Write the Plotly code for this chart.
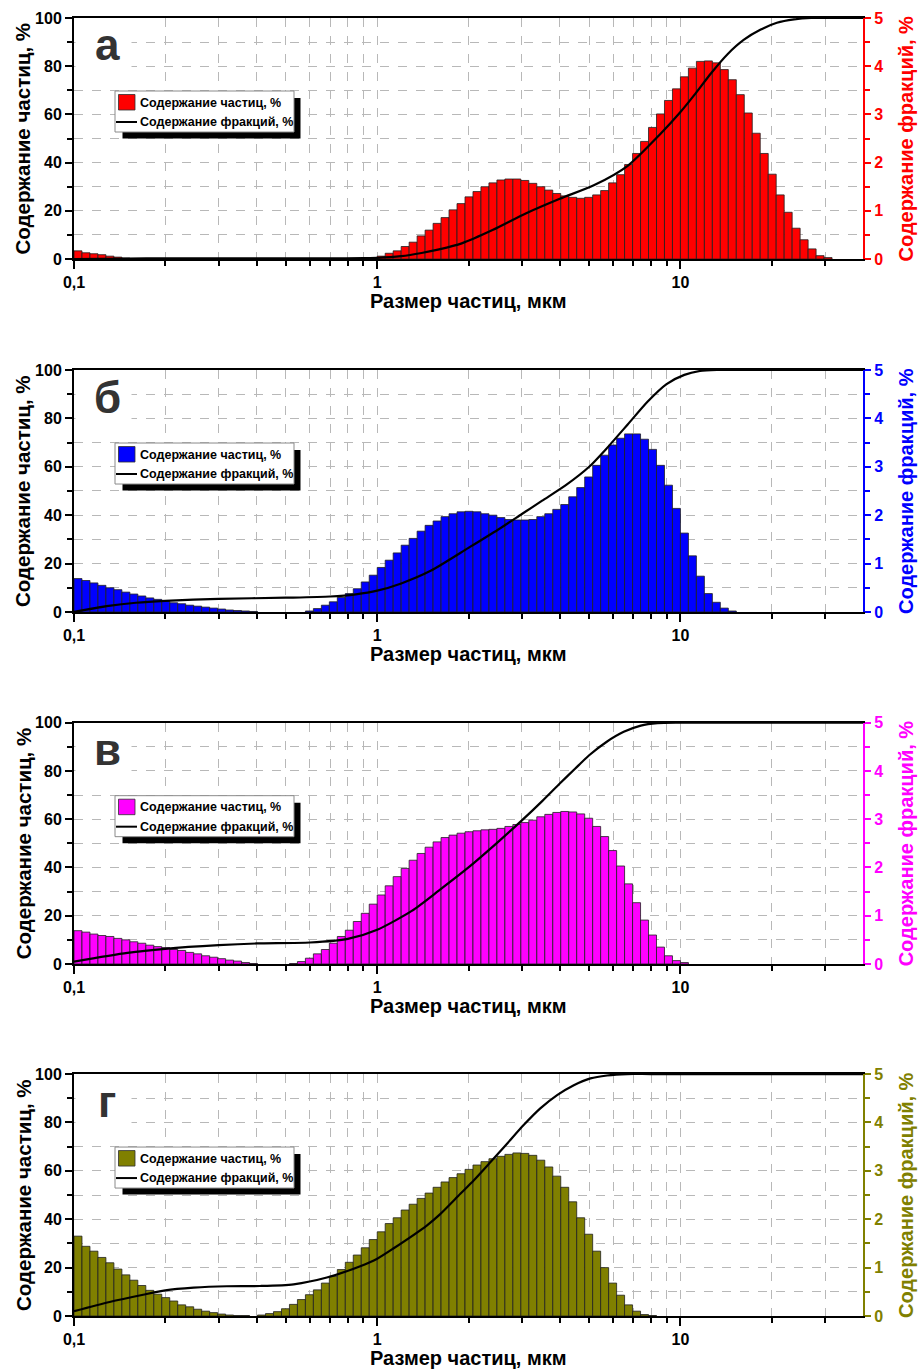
import numpy as np
import plotly.graph_objects as go

# ---------------- data ----------------
# size channels of the analyser (log-spaced bins starting at 0.1 µm)
X_MIN = 0.1
BINS_PER_DECADE = 38
N_BINS = 100

X_TICKS = [0.1, 1, 10]
X_TICK_TEXT = ["0,1", "1", "10"]
X_MINOR = [0.2, 0.3, 0.4, 0.5, 0.6, 0.7, 0.8, 0.9, 2, 3, 4, 5, 6, 7, 8, 9, 20, 30]
LEFT_TICKS = [0, 20, 40, 60, 80, 100]
LEFT_MINOR = [10, 30, 50, 70, 90]
RIGHT_TICKS = [0, 1, 2, 3, 4, 5]
RIGHT_MINOR = [0.5, 1.5, 2.5, 3.5, 4.5]

LETTERS = ["а", "б", "в", "г"]
COLORS = ["#ff0000", "#0000ff", "#ff00ff", "#808000"]

# panel а — bar heights (% per channel), segments start at channel index
A_LEFT_START = 0
A_LEFT = [0.17, 0.13, 0.11, 0.09, 0.06, 0.04, 0.02]
A_MAIN_START = 38
A_MAIN = [0.06, 0.12, 0.17, 0.26, 0.35, 0.48, 0.60, 0.74, 0.86, 1.02, 1.15, 1.29, 1.40, 1.50,
          1.58, 1.64, 1.66, 1.66, 1.63, 1.57, 1.50, 1.43, 1.36, 1.31, 1.28, 1.26, 1.28, 1.33,
          1.42, 1.58, 1.75, 1.96, 2.19, 2.44, 2.73, 3.01, 3.29, 3.53, 3.78, 3.96, 4.10, 4.11,
          4.07, 3.93, 3.72, 3.41, 3.03, 2.61, 2.19, 1.76, 1.33, 0.97, 0.64, 0.40, 0.21, 0.07, 0.03]
A_LINE_X = [0.1, 0.15, 0.2, 0.3, 0.5, 0.7, 0.9, 1.0, 1.2, 1.4, 1.6, 1.9, 2.4, 3.1, 4.0, 5.2, 6.7,
            8.6, 10.0, 11.1, 12.6, 14.3, 16.2, 18.4, 20.8, 23.7, 27, 32, 40]
A_LINE_Y = [0, 0.2, 0.3, 0.3, 0.3, 0.3, 0.4, 0.5, 1.2, 2.5, 4.0, 6.5, 12, 19, 25, 30.7, 38.7,
            52, 61, 68, 77, 85, 91, 95.2, 98, 99.4, 100, 100, 100]

# panel б
B_LEFT_START = 0
B_LEFT = [0.69, 0.65, 0.60, 0.55, 0.50, 0.46, 0.41, 0.37, 0.33, 0.29, 0.26, 0.22, 0.19, 0.17,
          0.14, 0.12, 0.10, 0.08, 0.06, 0.04, 0.03, 0.02, 0.01]
B_MAIN_START = 29
B_MAIN = [0.02, 0.07, 0.14, 0.21, 0.30, 0.38, 0.48, 0.62, 0.76, 0.92, 1.07, 1.22, 1.38, 1.52,
          1.67, 1.79, 1.88, 1.97, 2.03, 2.07, 2.08, 2.07, 2.03, 2.00, 1.95, 1.91, 1.90, 1.90,
          1.91, 1.97, 2.03, 2.12, 2.22, 2.38, 2.57, 2.79, 3.03, 3.24, 3.45, 3.59, 3.68, 3.68,
          3.57, 3.36, 3.03, 2.62, 2.14, 1.63, 1.16, 0.74, 0.38, 0.20, 0.08, 0.02]
B_LINE_X = [0.1, 0.13, 0.16, 0.2, 0.3, 0.5, 0.7, 0.85, 1.0, 1.2, 1.5, 2.0, 2.5, 3.0, 3.5, 4.2,
            5.0, 5.7, 6.7, 7.8, 9.0, 10.3, 11.6, 13.2, 16, 40]
B_LINE_Y = [0, 2.5, 3.8, 4.6, 5.4, 5.9, 6.4, 7.3, 8.8, 11.8, 17, 26.5, 34, 40.5, 46, 52.5,
            60, 67.5, 77.5, 87, 94.2, 98, 99.6, 100, 100, 100]

# panel в
C_LEFT_START = 0
C_LEFT = [0.69, 0.66, 0.62, 0.59, 0.57, 0.53, 0.50, 0.46, 0.43, 0.39, 0.36, 0.34, 0.30, 0.28,
          0.24, 0.21, 0.17, 0.14, 0.11, 0.08, 0.06, 0.03, 0.01]
C_MAIN_START = 27
C_MAIN = [0.01, 0.05, 0.12, 0.21, 0.30, 0.43, 0.57, 0.70, 0.88, 1.05, 1.24, 1.43, 1.62, 1.81,
          1.98, 2.15, 2.29, 2.42, 2.53, 2.62, 2.67, 2.71, 2.74, 2.76, 2.78, 2.79, 2.81, 2.85,
          2.89, 2.93, 2.98, 3.05, 3.10, 3.14, 3.16, 3.15, 3.11, 3.02, 2.85, 2.64, 2.35, 2.03,
          1.66, 1.27, 0.91, 0.60, 0.35, 0.17, 0.07, 0.03]
C_LINE_X = [0.1, 0.15, 0.2, 0.3, 0.4, 0.6, 0.8, 1.0, 1.3, 1.6, 2.0, 2.5, 3.0, 3.5, 4.0, 4.5,
            5.0, 5.7, 6.5, 7.4, 8.4, 10, 40]
C_LINE_Y = [1, 4.6, 6.3, 7.8, 8.5, 8.9, 10.4, 14.2, 22, 30.5, 40, 50.5, 59.5, 67.5, 74.8, 81,
            86.5, 92, 96.2, 98.8, 99.8, 100, 100]

# panel г
D_LEFT_START = 0
D_LEFT = [1.65, 1.44, 1.34, 1.21, 1.10, 0.97, 0.85, 0.74, 0.63, 0.53, 0.45, 0.38, 0.31, 0.23,
          0.19, 0.14, 0.10, 0.07, 0.04, 0.02, 0.01, 0.01]
D_MAIN_START = 23
D_MAIN = [0.02, 0.05, 0.09, 0.15, 0.24, 0.34, 0.44, 0.54, 0.68, 0.82, 0.96, 1.11, 1.26, 1.41,
          1.58, 1.74, 1.91, 2.03, 2.19, 2.31, 2.43, 2.54, 2.66, 2.77, 2.86, 2.94, 3.03, 3.12,
          3.19, 3.25, 3.30, 3.34, 3.37, 3.36, 3.32, 3.22, 3.08, 2.89, 2.66, 2.36, 2.03, 1.69,
          1.34, 1.00, 0.68, 0.43, 0.23, 0.10, 0.03, 0.01]
D_LINE_X = [0.1, 0.131, 0.169, 0.2, 0.248, 0.319, 0.411, 0.53, 0.682, 0.879, 1.0, 1.13, 1.46,
            1.61, 1.88, 2.08, 2.36, 2.68, 3.04, 3.45, 3.92, 4.45, 5.05, 5.73, 6.67, 8, 40]
D_LINE_Y = [2, 5.8, 8.8, 10.6, 11.7, 12.3, 12.4, 13.1, 15.9, 20.6, 23.7, 27.9, 37.5, 42, 50.5,
            56, 63.5, 71.2, 78.9, 85.8, 91.3, 95.4, 98.2, 99.4, 100, 100, 100]

BAR_LEGEND = "Содержание частиц, %"
LINE_LEGEND = "Содержание фракций, %"
X_TITLE = "Размер частиц, мкм"
LEFT_TITLE = "Содержание частиц, %"
RIGHT_TITLE = "Содержание фракций, %"

PANELS = [
    dict(segs=[(A_LEFT_START, A_LEFT), (A_MAIN_START, A_MAIN)], lx=A_LINE_X, ly=A_LINE_Y),
    dict(segs=[(B_LEFT_START, B_LEFT), (B_MAIN_START, B_MAIN)], lx=B_LINE_X, ly=B_LINE_Y),
    dict(segs=[(C_LEFT_START, C_LEFT), (C_MAIN_START, C_MAIN)], lx=C_LINE_X, ly=C_LINE_Y),
    dict(segs=[(D_LEFT_START, D_LEFT), (D_MAIN_START, D_MAIN)], lx=D_LINE_X, ly=D_LINE_Y),
]

# ---------------- layout geometry ----------------
W, H = 921, 1371
ML, MR, MT, MB = 74, 58, 18, 55
DOMAINS = [[0.8143, 1.0], [0.5424, 0.7288], [0.2712, 0.4571], [0.0, 0.1864]]

FONT = "Liberation Sans, Arial, sans-serif"
GRID = "#b8b8b8"

edges = X_MIN * 10 ** (np.arange(N_BINS + 1) / BINS_PER_DECADE)

fig = go.Figure()
layout = dict(
    width=W, height=H, template="none",
    margin=dict(l=ML, r=MR, t=MT, b=MB),
    paper_bgcolor="white", plot_bgcolor="white",
    showlegend=False, barmode="overlay",
    font=dict(family=FONT, color="black"),
)
shapes, annots = [], []
PW = W - ML - MR

for i, p in enumerate(PANELS):
    n = i + 1
    color = COLORS[i]
    xa = "x" if n == 1 else f"x{n}"
    yb = "y" if n == 1 else f"y{n}"
    yl = f"y{n + 4}"
    xs, ys, ws = [], [], []
    for start, vals in p["segs"]:
        for j, v in enumerate(vals):
            k = start + j
            lo, hi = edges[k], edges[k + 1]
            xs.append((lo + hi) / 2)
            ws.append(hi - lo)
            ys.append(v)
    fig.add_trace(go.Bar(x=xs, y=ys, width=ws, xaxis=xa, yaxis=yb, name=BAR_LEGEND,
                         marker=dict(color=color, line=dict(color="#202020", width=0.8))))
    fig.add_trace(go.Scatter(x=p["lx"], y=p["ly"], mode="lines", xaxis=xa, yaxis=yl,
                             name=LINE_LEGEND,
                             line=dict(color="black", width=2.2, shape="spline", smoothing=0.7)))

    tickfont = dict(family=FONT, size=16, weight="bold", color="black")
    layout["xaxis" if n == 1 else f"xaxis{n}"] = dict(
        type="log", range=[-1, np.log10(40)], domain=[0, 1], anchor=yb,
        tickmode="array", tickvals=X_TICKS, ticktext=X_TICK_TEXT,
        ticks="outside", ticklen=8, tickwidth=1.5, tickcolor="black",
        showline=True, linecolor="black", linewidth=2, mirror=True,
        showgrid=True, gridcolor=GRID, griddash="dash", gridwidth=1,
        zeroline=False, automargin=False,
        minor=dict(tickmode="array", tickvals=X_MINOR, ticks="outside", ticklen=5,
                   tickwidth=1.5, tickcolor="black",
                   showgrid=True, gridcolor=GRID, griddash="dash", gridwidth=1),
        tickfont=tickfont,
    )
    layout["yaxis" if n == 1 else f"yaxis{n}"] = dict(
        domain=DOMAINS[i], anchor=xa, side="right", range=[0, 5],
        tickmode="array", tickvals=RIGHT_TICKS,
        ticks="outside", ticklen=6, tickwidth=1.5, tickcolor=color,
        showline=True, linecolor=color, linewidth=2,
        showgrid=True, gridcolor=GRID, griddash="dash", gridwidth=1,
        zeroline=False, automargin=False,
        minor=dict(tickmode="array", tickvals=RIGHT_MINOR, ticks="outside", ticklen=5,
                   tickwidth=1.5, tickcolor=color,
                   showgrid=True, gridcolor=GRID, griddash="dash", gridwidth=1),
        tickfont=dict(family=FONT, size=16, weight="bold", color=color),
    )
    layout[f"yaxis{n + 4}"] = dict(
        overlaying=yb, anchor=xa, side="left", range=[0, 100],
        tickmode="array", tickvals=LEFT_TICKS,
        ticks="outside", ticklen=7, tickwidth=1.5, tickcolor="black",
        showline=True, linecolor="black", linewidth=2,
        showgrid=False, zeroline=False, automargin=False,
        minor=dict(tickmode="array", tickvals=LEFT_MINOR, ticks="outside", ticklen=5,
                   tickwidth=1.5, tickcolor="black"),
        tickfont=tickfont,
    )

    xd = f"{xa} domain"
    yd = f"{yb} domain"
    ph = (DOMAINS[i][1] - DOMAINS[i][0]) * (H - MT - MB)

    def fx(px):
        return (px - ML) / PW

    def fy(off):
        return 1 - off / ph

    # axis titles
    annots.append(dict(xref=xd, yref=yd, x=0.5, y=fy(ph + 42), text=X_TITLE,
                       showarrow=False, xanchor="center", yanchor="middle",
                       font=dict(family=FONT, size=20, weight="bold", color="black")))
    annots.append(dict(xref=xd, yref=yd, x=fx(23), y=0.5, text=LEFT_TITLE, textangle=-90,
                       showarrow=False, xanchor="center", yanchor="middle",
                       font=dict(family=FONT, size=20.5, weight="bold", color="black")))
    annots.append(dict(xref=xd, yref=yd, x=fx(906), y=0.5, text=RIGHT_TITLE, textangle=-90,
                       showarrow=False, xanchor="center", yanchor="middle",
                       font=dict(family=FONT, size=20, weight="bold", color=color)))

    # white patch behind panel letter
    shapes.append(dict(type="rect", xref=xd, yref=yd, x0=fx(75.5), x1=fx(131.5),
                       y0=fy(58), y1=fy(1.5), fillcolor="white", line=dict(width=0),
                       layer="above"))
    # legend shadow + box
    shapes.append(dict(type="rect", xref=xd, yref=yd, x0=fx(122.5), x1=fx(300.5),
                       y0=fy(120.5), y1=fy(80), fillcolor="black", line=dict(width=0),
                       layer="above"))
    shapes.append(dict(type="rect", xref=xd, yref=yd, x0=fx(115), x1=fx(294),
                       y0=fy(114), y1=fy(73), fillcolor="white",
                       line=dict(color="#8a8a8a", width=1), layer="above"))
    shapes.append(dict(type="rect", xref=xd, yref=yd, x0=fx(118.5), x1=fx(135),
                       y0=fy(92), y1=fy(76.5), fillcolor=color,
                       line=dict(color="#303030", width=0.8), layer="above"))
    shapes.append(dict(type="line", xref=xd, yref=yd, x0=fx(116), x1=fx(137),
                       y0=fy(104), y1=fy(104), line=dict(color="black", width=2),
                       layer="above"))
    annots.append(dict(xref=xd, yref=yd, x=fx(138), y=fy(84.5), text=BAR_LEGEND,
                       showarrow=False, xanchor="left", yanchor="middle",
                       font=dict(family=FONT, size=12.5, weight="bold", color="black")))
    annots.append(dict(xref=xd, yref=yd, x=fx(138), y=fy(104), text=LINE_LEGEND,
                       showarrow=False, xanchor="left", yanchor="middle",
                       font=dict(family=FONT, size=12.5, weight="bold", color="black")))
    annots.append(dict(xref=xd, yref=yd, x=fx(107), y=fy(27), text=LETTERS[i],
                       showarrow=False, xanchor="center", yanchor="middle",
                       font=dict(family=FONT, size=44, weight="bold", color="#333333")))

layout["shapes"] = shapes
layout["annotations"] = annots
fig.update_layout(**layout)
# page body has a default 8px margin; remove it so the figure sits at the window origin
fig.write_html("out.html", config={"displayModeBar": False},
               post_script="document.body.style.margin='0px';")
